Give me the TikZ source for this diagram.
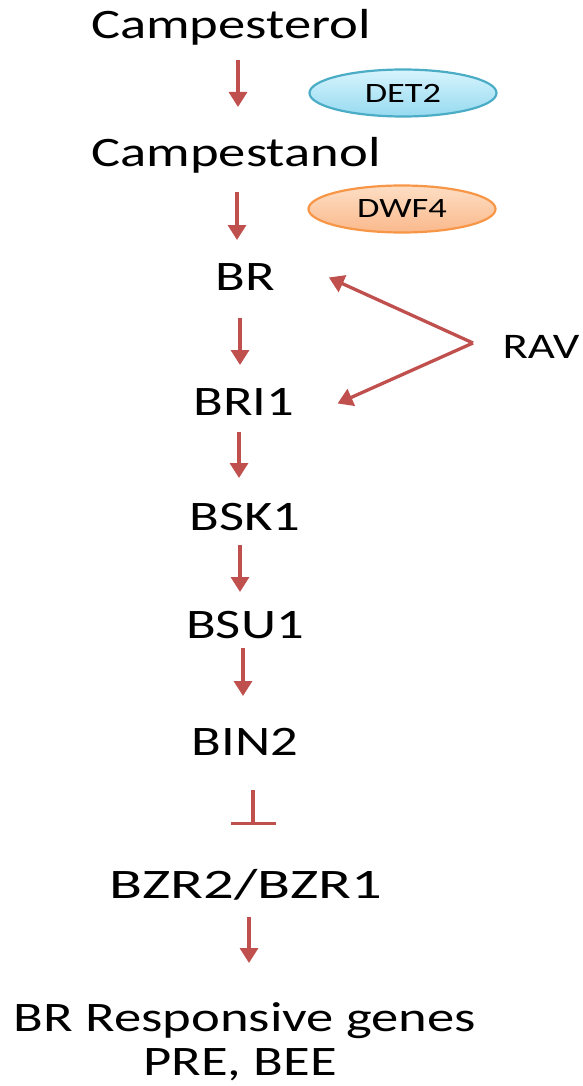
\documentclass[tikz,border=0pt]{standalone}
\usepackage{fontspec}
\setmainfont{Carlito}[FakeStretch=1.3]
\usetikzlibrary{arrows.meta,shapes.geometric}
\definecolor{flowred}{RGB}{192,80,77}
\definecolor{detline}{RGB}{75,172,198}
\definecolor{detlight}{RGB}{215,244,253}
\definecolor{detdark}{RGB}{150,218,240}
\definecolor{dwfline}{RGB}{247,150,70}
\definecolor{dwflight}{RGB}{253,222,196}
\definecolor{dwfdark}{RGB}{250,185,140}
\tikzset{
  lbl/.style={font=\fontsize{42}{50}\selectfont, inner sep=0pt, anchor=base, text height=27pt, text depth=0pt},
  flow/.style={draw=flowred, line width=3.3pt, -{Triangle[width=18pt,length=15pt]}},
  block/.style={draw=flowred, line width=3.3pt, -{Bar[width=45pt]}},
  enzyme/.style={ellipse, inner sep=0pt, minimum width=187pt, minimum height=47pt, line width=2.2pt, font=\fontsize{28}{32}\selectfont}
}
\begin{document}
\begin{tikzpicture}[x=1pt,y=-1pt]
  \useasboundingbox (0,0) rectangle (582,1086);

  % pathway members, placed by baseline
  \node[lbl] (camp)  at (231,39)   {Campesterol};
  \node[lbl] (stan)  at (236,167)  {Campestanol};
  \node[lbl] (br)    at (245,290)  {BR};
  \node[lbl] (bri)   at (244,415)  {BRI1};
  \node[lbl] (bsk)   at (245,530)  {BSK1};
  \node[lbl] (bsu)   at (245,638)  {BSU1};
  \node[lbl] (bin)   at (245,755)  {BIN2};
  \node[lbl, xscale=1.11, transform shape] (bzr) at (246,898) {BZR2/BZR1};
  \node[lbl] (genes) at (245,1031) {BR Responsive genes};
  \node[lbl] (pre)   at (240,1075) {PRE, BEE};
  \node[lbl, font=\fontsize{36}{42}\selectfont, text height=23pt] (rav) at (541,358) {RAV};

  % enzymes
  \node[enzyme, draw=detline, top color=detlight, bottom color=detdark] (det2) at (403,93) {DET2};
  \node[enzyme, draw=dwfline, top color=dwflight, bottom color=dwfdark] (dwf4) at (402,209) {DWF4};

  % main cascade
  \draw[flow] ([shift={(7,21)}]camp.base)  -- ([shift={(2,-60)}]stan.base);
  \draw[flow] ([shift={(1,25)}]stan.base)  -- ([shift={(-8,-50)}]br.base);
  \draw[flow] ([shift={(-5,28)}]br.base)   -- ([shift={(-4,-50)}]bri.base);
  \draw[flow] ([shift={(-5,17)}]bri.base)  -- ([shift={(-6,-52)}]bsk.base);
  \draw[flow] ([shift={(-5,15)}]bsk.base)  -- ([shift={(-5,-46)}]bsu.base);
  \draw[flow] ([shift={(-2,10)}]bsu.base)  -- ([shift={(-2,-59)}]bin.base);
  \draw[block] ([shift={(8,35)}]bin.base)  -- ([shift={(7,-73)}]bzr.base);
  \draw[flow] ([shift={(3,19)}]bzr.base)   -- ([shift={(4,-68)}]genes.base);

  % RAV acting on BR and BRI1
  \coordinate (fork) at (473,343);
  \draw[flow] (fork) -- ([shift={(54,1)}]br.east);
  \draw[flow] (fork) -- ([shift={(43,2)}]bri.east);
\end{tikzpicture}
\end{document}
